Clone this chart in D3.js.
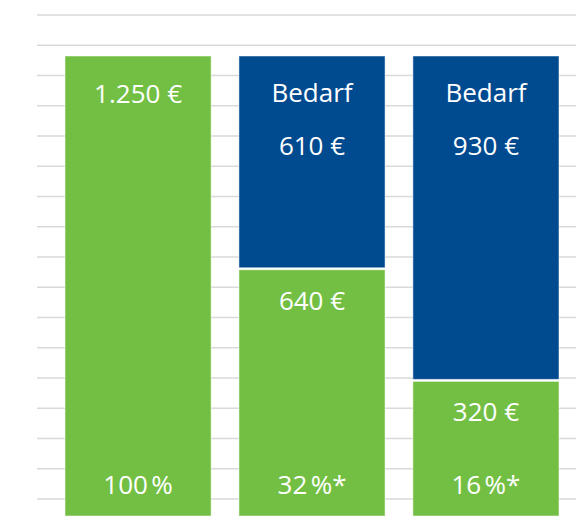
<!DOCTYPE html>
<html>
<head>
<meta charset="utf-8">
<script src="https://cdn.jsdelivr.net/npm/d3@7"></script>
<style>
  body { margin: 0; background: #fff; }
  text { font-family: "Open Sans", "Noto Sans", sans-serif; fill: #fff; }
</style>
</head>
<body>
<div id="chart"></div>
<script>
// Data
const categories = ['Gesamt', 'Fall 1', 'Fall 2'];
const eigenanteil = [1250, 640, 320];   // green part
const bedarf = [0, 610, 930];           // blue part
const shareLabels = ['100\u202f%', '32\u202f%*', '16\u202f%*'];
const gridLevels = d3.range(17);

const width = 576;
const height = 516;

const svg = d3.select('#chart').append('svg')
    .attr('width', width)
    .attr('height', height);

// Scales
const xScale = d3.scaleBand()
    .domain(categories)
    .range([65, 559])
    .paddingInner(0.16)
    .paddingOuter(0);

const yScale = d3.scaleLinear()
    .domain([0, 1250])
    .range([492, 56]);

const gridScale = d3.scaleLinear()
    .domain([0, 16])
    .range([15, 499]);

// Gridlines
svg.append('g')
    .selectAll('line')
    .data(gridLevels)
    .enter().append('line')
    .attr('x1', 37)
    .attr('x2', width)
    .attr('y1', d => gridScale(d))
    .attr('y2', d => gridScale(d))
    .attr('stroke', '#d9d9d9')
    .attr('stroke-width', 1.5);

// Stacked data
const rows = categories.map((c, i) => ({ cat: c, green: eigenanteil[i], blue: bedarf[i] }));
const stack = d3.stack().keys(['green', 'blue']);
const series = stack(rows);
const colors = { green: '#72bf44', blue: '#004a8f' };

const layers = svg.selectAll('g.layer')
    .data(series)
    .enter().append('g')
    .attr('class', 'layer')
    .attr('fill', d => colors[d.key]);

// small white gap between stacked segments
const segTop = d => (d[1] < d.data.green + d.data.blue ? yScale(d[1]) + 1 : yScale(d[1]));
const segBottom = d => (d[0] === 0 ? height : yScale(d[0]) - 1);

layers.selectAll('rect')
    .data(d => d.filter(s => s[1] > s[0]))
    .enter().append('rect')
    .attr('x', d => xScale(d.data.cat))
    .attr('y', segTop)
    .attr('width', xScale.bandwidth())
    .attr('height', d => segBottom(d) - segTop(d))
    .attr('stroke', '#ffffff')
    .attr('stroke-opacity', 0.5)
    .attr('stroke-width', 1);

// Labels
const fmt = v => d3.format(',')(v).replace(/,/g, '.') + ' €';
const labels = svg.append('g').attr('text-anchor', 'middle').style('font-size', '26px');

rows.forEach((r, i) => {
    const cx = xScale(r.cat) + xScale.bandwidth() / 2;
    const total = r.green + r.blue;
    if (r.blue > 0) {
        labels.append('text')
            .attr('x', cx)
            .attr('y', yScale(total) + 46)
            .text('Bedarf');
        labels.append('text')
            .attr('x', cx)
            .attr('y', yScale(total) + 99)
            .text(fmt(r.blue));
        labels.append('text')
            .attr('x', cx)
            .attr('y', yScale(r.green) + 41)
            .text(fmt(r.green));
    } else {
        labels.append('text')
            .attr('x', cx)
            .attr('y', yScale(r.green) + 47)
            .text(fmt(r.green));
    }
    labels.append('text')
        .attr('x', cx)
        .attr('y', 494)
        .text(shareLabels[i]);
});
</script>
</body>
</html>
